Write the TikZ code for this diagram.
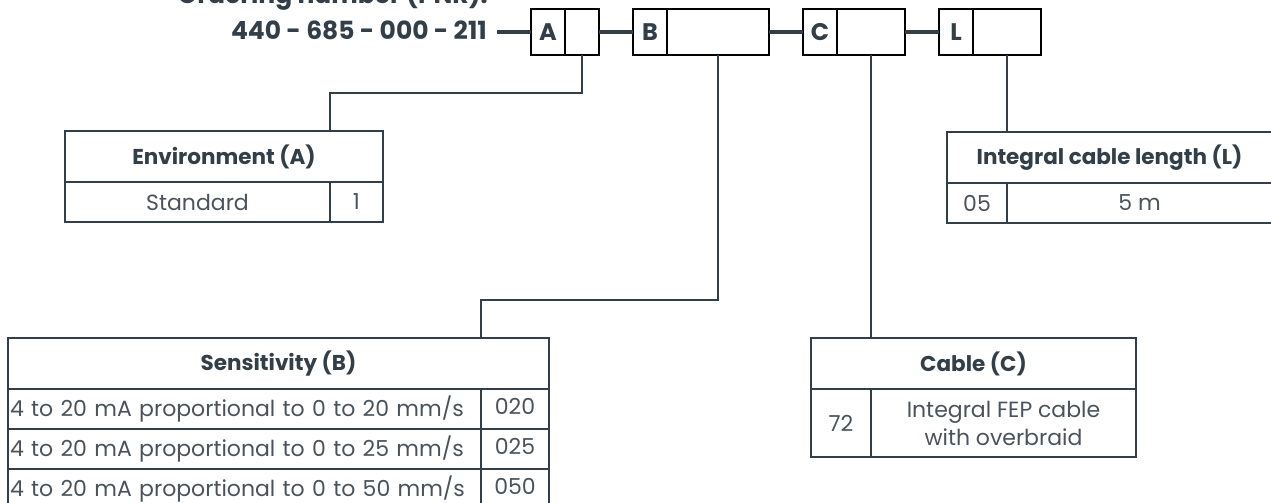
\documentclass[tikz,border=0pt]{standalone}
\usepackage{fontspec}
\setmainfont{Poppins}
\usetikzlibrary{positioning}
\definecolor{slate}{HTML}{333F48}
\definecolor{ink}{HTML}{4A535C}
\tikzset{
  pncell/.style={draw=black,line width=2pt,rectangle,minimum width=34pt,minimum height=45.5pt,inner sep=0pt,outer sep=0pt,font=\bfseries\fontsize{24}{24}\selectfont,text=slate},
  cell/.style={draw=slate,line width=2pt,rectangle,anchor=north west,minimum height=40pt,inner sep=0pt,outer sep=0pt,font=\fontsize{22}{28}\selectfont,text=ink},
  head/.style={cell,minimum height=51pt,font=\bfseries\fontsize{21.5}{24}\selectfont,text=slate},
  link/.style={draw=slate,line width=2pt},
  bar/.style={draw=slate,line width=3.5pt},
  pnum/.style={font=\bfseries\fontsize{25}{25}\selectfont,text=slate,inner xsep=10pt,inner ysep=0pt}
}

\begin{document}
\begin{tikzpicture}[x=1pt,y=-1pt]
\useasboundingbox (0,0) rectangle (1271,503);

% ordering number
\node[pnum,anchor=base east,inner xsep=0pt] (title) at (488,4) {Ordering number (PNR):};
\node[pnum,anchor=base east] (pnr) at (497,39.5) {440 - 685 - 000 - 211};

\node[pncell] (alet) at (548,32.25) {A};
\node[pncell,right=0pt of alet] (aval) {};
\node[pncell,right=34pt of aval] (blet) {B};
\node[pncell,minimum width=102pt,right=0pt of blet] (bval) {};
\node[pncell,right=34pt of bval] (clet) {C};
\node[pncell,minimum width=68pt,right=0pt of clet] (cval) {};
\node[pncell,right=34pt of cval] (llet) {L};
\node[pncell,minimum width=68pt,right=0pt of llet] (lval) {};

\draw[bar] (pnr.east |- alet.west) -- (alet.west);
\draw[bar] (aval.east) -- (blet.west);
\draw[bar] (bval.east) -- (clet.west);
\draw[bar] (cval.east) -- (llet.west);

% environment
\node[head,minimum width=318pt] (envh) at (65,131) {Environment (A)};
\node[cell,minimum width=265pt] (envr1) at (envh.south west) {Standard};
\node[cell,minimum width=53pt] (envc1) at (envr1.north east) {1};

% cable length
\node[head,minimum width=325pt] (lenh) at (947,132) {Integral cable length (L)};
\node[cell,minimum width=60pt] (lenc1) at (lenh.south west) {05};
\node[cell,minimum width=265pt] (lenr1) at (lenc1.north east) {5 m};

% sensitivity
\node[head,minimum width=541pt] (sensh) at (8,338) {Sensitivity (B)};
\foreach \r/\v/\c in {1/20/020,2/25/025,3/50/050}{
  \node[cell,text width=469pt,inner xsep=2pt,text depth=5pt] (sensr\r) at (8,{349+40*\r}) {4 to 20 mA proportional to 0 to \v{} mm/s};
  \node[cell,minimum width=68pt,text depth=5pt] (sensc\r) at (sensr\r.north east) {\c};
}

% cable
\node[head,minimum width=325pt] (cabh) at (811,338) {Cable (C)};
\node[cell,minimum width=60pt,minimum height=68pt] (cabc1) at (cabh.south west) {72};
\node[cell,minimum width=265pt,minimum height=68pt,align=center] (cabr1) at (cabc1.north east) {Integral FEP cable\\with overbraid};

\draw[link] (aval.south) -- ++(0,38) -| (envc1.west |- envh.north);
\draw[link] (bval.south) -- ++(0,245) -| (sensc1.west |- sensh.north);
\draw[link] (cval.south) -- (cabc1.east |- cabh.north);
\draw[link] (lval.south) -- (lenc1.east |- lenh.north);

\end{tikzpicture}
\end{document}
